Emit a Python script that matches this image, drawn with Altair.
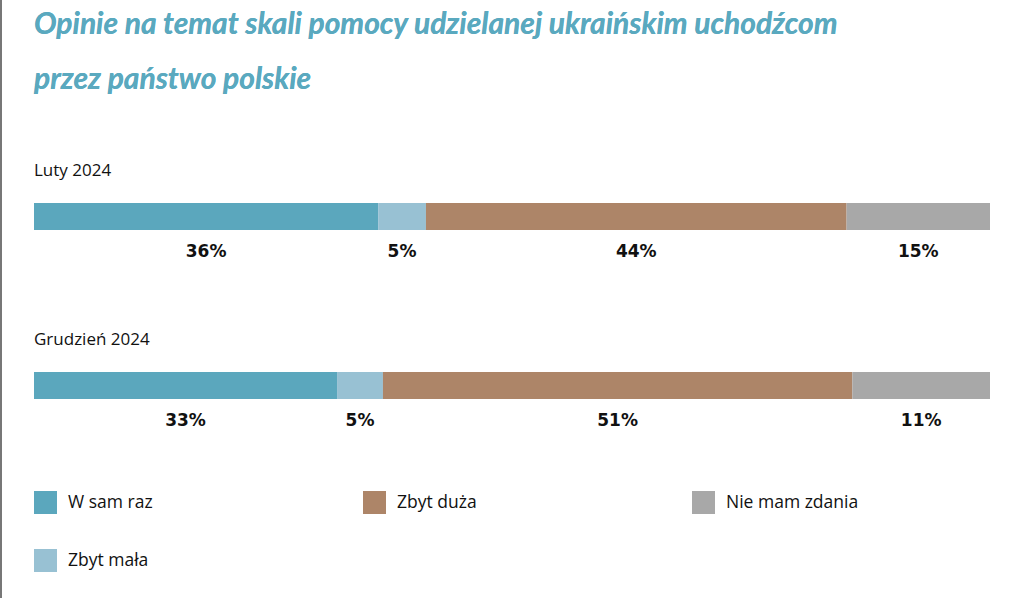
import altair as alt
import pandas as pd

title_lines = ["Opinie na temat skali pomocy udzielanej ukraińskim uchodźcom",
               "przez państwo polskie"]
rows = ["Luty 2024", "Grudzień 2024"]
categories = ["W sam raz", "Zbyt mała", "Zbyt duża", "Nie mam zdania"]
# printed percentages
luty_labels = [36, 5, 44, 15]
grudzien_labels = [33, 5, 51, 11]
# segment lengths as drawn in the picture
luty_bars = [36, 5, 44, 15]
grudzien_bars = [31.7, 4.8, 49.1, 14.4]
cat_colors = {"W sam raz": "#5ba7bd", "Zbyt mała": "#98c1d3",
              "Zbyt duża": "#ad8568", "Nie mam zdania": "#a8a8a8"}
legend_order = ["W sam raz", "Nie mam zdania", "Zbyt duża", "Zbyt mała"]

records = []
for r, vals, labs in zip(rows, [luty_bars, grudzien_bars], [luty_labels, grudzien_labels]):
    for i, (c, v, l) in enumerate(zip(categories, vals, labs)):
        records.append({"row": r, "cat": c, "value": v, "label": f"{l}%", "idx": i})
df = pd.DataFrame(records)
rows_df = pd.DataFrame({"row": rows})

xscale = alt.Scale(domain=[0, 100], nice=False, zero=True)
yenc = alt.Y("row:N", sort=rows, axis=None,
             scale=alt.Scale(paddingInner=0, paddingOuter=0))

bars = alt.Chart(df).mark_bar(size=27).encode(
    x=alt.X("value:Q", stack="zero", scale=xscale, axis=None),
    y=yenc,
    color=alt.Color("cat:N",
                    scale=alt.Scale(domain=legend_order,
                                    range=[cat_colors[c] for c in legend_order]),
                    legend=alt.Legend(title=None, orient="none", legendX=0, legendY=359,
                                      columns=3, gridAlign="all", columnPadding=162,
                                      rowPadding=35, symbolType="square", symbolSize=529,
                                      symbolStrokeWidth=0, symbolOpacity=1,
                                      labelFont="Open Sans", labelFontSize=17.5,
                                      labelColor="#111111", labelOffset=11,
                                      labelLimit=300)),
    order=alt.Order("idx:Q"),
)

pct = alt.Chart(df).transform_stack(
    stack="value", groupby=["row"], sort=[alt.SortField("idx")], as_=["x0", "x1"]
).transform_calculate(
    mid="(datum.x0 + datum.x1) / 2"
).mark_text(dy=35, font="DejaVu Sans", fontWeight="bold", fontSize=17,
            color="#111111").encode(
    x=alt.X("mid:Q", scale=xscale, axis=None),
    y=yenc,
    text="label:N",
)

row_labels = alt.Chart(rows_df).mark_text(
    align="left", dy=-46, font="Open Sans", fontSize=17, color="#111111"
).encode(
    x=alt.datum(0, scale=xscale),
    y=yenc,
    text="row:N",
)

title_font = "Lato"
title1 = alt.Chart(rows_df).mark_text(
    align="left", baseline="alphabetic", font=title_font, fontSize=30,
    fontStyle="italic", fontWeight="bold", color="#5aa9bf", text=title_lines[0]
).encode(x=alt.value(0), y=alt.value(-98))
title2 = alt.Chart(rows_df).mark_text(
    align="left", baseline="alphabetic", font=title_font, fontSize=30,
    fontStyle="italic", fontWeight="bold", color="#5aa9bf", text=title_lines[1]
).encode(x=alt.value(0), y=alt.value(-43))

border = alt.Chart(rows_df).mark_rule(color="#777777", strokeWidth=2).encode(
    x=alt.value(-33), y=alt.value(-132), y2=alt.value(466)
)

chart = alt.layer(bars, pct, row_labels, title1, title2, border).properties(
    width=956, height=338,
    padding={"left": 34, "right": 34, "top": 132, "bottom": 128},
    autosize=alt.AutoSizeParams(type="none"),
).configure_view(stroke=None)

chart.save("out.html", embed_options={"renderer": "svg", "actions": False})
